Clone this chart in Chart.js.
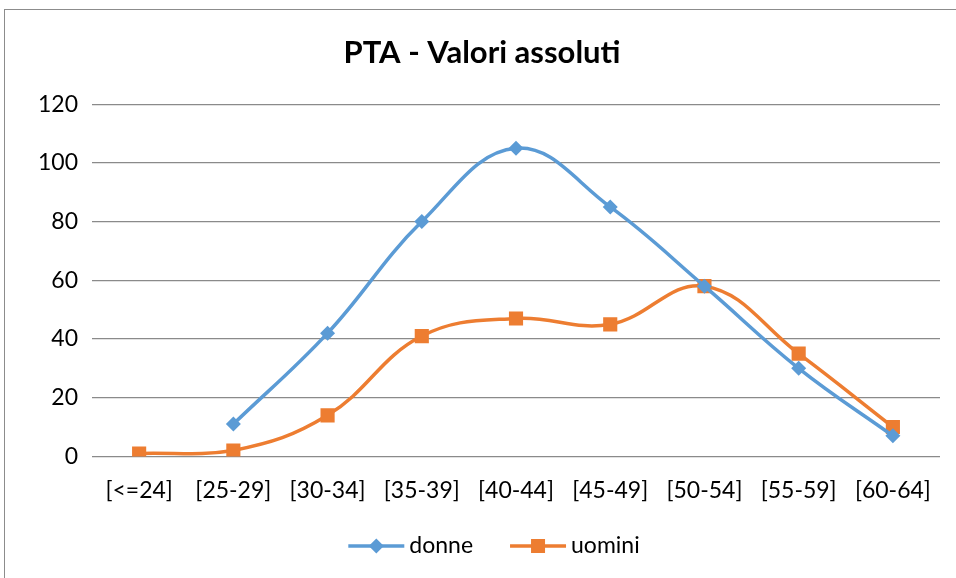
<!DOCTYPE html>
<html>
<head>
<meta charset="utf-8">
<script src="https://cdn.jsdelivr.net/npm/chart.js@4"></script>
<style>
  html, body { margin: 0; padding: 0; background: #fff; overflow: hidden; }
  #wrap {
    position: absolute; left: 4px; top: 9px; width: 960px; height: 580px;
    border-left: 1px solid #8c8c8c; border-top: 1px solid #8c8c8c;
  }
  #box { position: absolute; left: -5px; top: -10px; width: 992px; height: 578px; }
</style>
</head>
<body>
<div id="wrap"><div id="box"><canvas id="ptaChart"></canvas></div></div>
<script>
// Dati del grafico
const categories = ["[<=24]", "[25-29]", "[30-34]", "[35-39]", "[40-44]", "[45-49]", "[50-54]", "[55-59]", "[60-64]"];
const donne = [null, 11, 42, 80, 105, 85, 58, 30, 7];
const uomini = [1, 2, 14, 41, 47, 45, 58, 35, 10];
const yTicks = [0, 20, 40, 60, 80, 100, 120];

const BLUE = "#5B9BD5";
const ORANGE = "#ED7D31";
const FONT = "Lato, 'Open Sans', sans-serif";

// legenda disegnata a mano: linea + marcatore + testo
const legendaPlugin = {
  id: "legendaExcel",
  afterDraw: function (chart) {
    const c = chart.ctx;
    const items = chart.data.datasets;
    const iconW = 56, gapText = 5, gapItem = 37;
    c.save();
    c.font = "23px " + FONT;
    let total = 0;
    items.forEach(function (ds, i) {
      total += iconW + gapText + c.measureText(ds.label).width;
      if (i < items.length - 1) total += gapItem;
    });
    let x = chart.width / 2 - 2 - total / 2;
    const y = 546;
    items.forEach(function (ds) {
      c.strokeStyle = ds.borderColor;
      c.fillStyle = ds.borderColor;
      c.lineWidth = 3.5;
      c.beginPath();
      c.moveTo(x, y);
      c.lineTo(x + iconW, y);
      c.stroke();
      const cx = x + iconW / 2;
      if (ds.pointStyle === "rectRot") {
        c.beginPath();
        c.moveTo(cx, y - 7.5);
        c.lineTo(cx + 7.5, y);
        c.lineTo(cx, y + 7.5);
        c.lineTo(cx - 7.5, y);
        c.closePath();
        c.fill();
      } else {
        c.fillRect(cx - 7, y - 7, 14, 14);
      }
      x += iconW + gapText;
      c.fillStyle = "#000";
      c.textBaseline = "middle";
      c.textAlign = "left";
      c.fillText(ds.label, x, y);
      x += c.measureText(ds.label).width + gapItem;
    });
    c.restore();
  },
};

const ctx = document.getElementById("ptaChart").getContext("2d");
new Chart(ctx, {
  type: "line",
  data: {
    labels: categories,
    datasets: [
      {
        label: "donne",
        data: donne,
        borderColor: BLUE,
        backgroundColor: BLUE,
        borderWidth: 3.5,
        tension: 0.4,
        pointStyle: "rectRot",
        pointRadius: 7.5,
        pointBorderWidth: 0,
      },
      {
        label: "uomini",
        data: uomini,
        borderColor: ORANGE,
        backgroundColor: ORANGE,
        borderWidth: 3.5,
        tension: 0.4,
        pointStyle: "rect",
        pointRadius: 10,
        pointBorderWidth: 0,
      },
    ],
  },
  options: {
    responsive: true,
    maintainAspectRatio: false,
    animation: false,
    layout: { padding: { left: 24, right: 52, top: 10, bottom: 62 } },
    plugins: {
      title: {
        display: true,
        text: "PTA - Valori assoluti",
        color: "#000",
        font: { family: FONT, size: 31, weight: "bold" },
        padding: { top: 24, bottom: 33 },
      },
      legend: { display: false },
      tooltip: { enabled: false },
    },
    scales: {
      x: {
        offset: true,
        grid: { display: false },
        border: { display: false },
        ticks: { color: "#000", font: { family: FONT, size: 23 }, padding: 12, maxRotation: 0 },
      },
      y: {
        min: 0,
        max: 120,
        afterBuildTicks: function (axis) {
          axis.ticks = yTicks.map(function (v) { return { value: v }; });
        },
        grid: { color: "#8a8a8a", lineWidth: 1.3, drawTicks: false },
        border: { display: false },
        ticks: { color: "#000", font: { family: FONT, size: 23 }, padding: 14 },
      },
    },
  },
  plugins: [legendaPlugin],
});
</script>
</body>
</html>
